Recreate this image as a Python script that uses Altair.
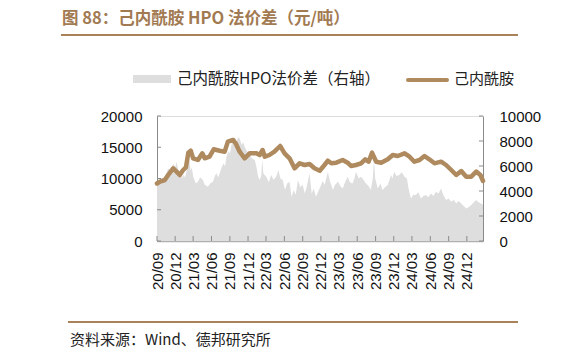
import altair as alt
import pandas as pd

# 己内酰胺 price (left axis, 元/吨)
price_dates = [
    "2020-09-01", "2020-09-16", "2020-10-10", "2020-10-27", "2020-11-21", "2020-12-08",
    "2020-12-24", "2021-01-10", "2021-01-24", "2021-02-05", "2021-02-17", "2021-03-01",
    "2021-03-25", "2021-04-16", "2021-04-28", "2021-05-22", "2021-06-12", "2021-07-12",
    "2021-08-06", "2021-08-22", "2021-09-17", "2021-09-30", "2021-10-20", "2021-11-14",
    "2021-12-09", "2022-01-12", "2022-01-28", "2022-02-12", "2022-02-23", "2022-03-18",
    "2022-04-12", "2022-05-11", "2022-06-02", "2022-06-27", "2022-07-22", "2022-08-16",
    "2022-09-11", "2022-10-05", "2022-10-30", "2022-11-25", "2022-12-19", "2023-01-05",
    "2023-01-22", "2023-02-16", "2023-03-20", "2023-04-14", "2023-05-01", "2023-05-26",
    "2023-06-20", "2023-07-11", "2023-07-28", "2023-08-14", "2023-09-04", "2023-09-29",
    "2023-11-01", "2023-11-26", "2023-12-21", "2024-01-24", "2024-02-18", "2024-03-13",
    "2024-04-08", "2024-05-03", "2024-05-27", "2024-06-22", "2024-07-25", "2024-08-19",
    "2024-09-14", "2024-10-09", "2024-11-03", "2024-11-28", "2024-12-23", "2025-01-17",
    "2025-02-07", "2025-02-20",
]
price_values = [
    9200, 9500, 9760, 10560, 11630, 11100,
    10560, 11360, 11790, 14130, 14450, 13230,
    12960, 14030, 13230, 13490, 14670, 14450,
    14290, 15890, 16160, 15630, 14290, 13230,
    14030, 14030, 13760, 14560, 13490, 13760,
    14290, 15200, 14030, 13230, 11630, 12430,
    12160, 12320, 11630, 11250, 12160, 12850,
    12430, 12530, 12960, 12530, 12000, 12160,
    12430, 13070, 12690, 14130, 12690, 12530,
    13070, 13760, 13600, 14030, 13490, 12690,
    12960, 13600, 13070, 12430, 12690, 12160,
    11360, 10560, 11200, 10290, 10290, 11100,
    10560, 9600,
]

# 己内酰胺HPO法价差 (right axis, 元/吨)
spread_dates = [
    "2020-09-01", "2020-09-15", "2020-10-01", "2020-10-15", "2020-10-27", "2020-11-10",
    "2020-11-21", "2020-12-01", "2020-12-08", "2020-12-16", "2020-12-24", "2021-01-05",
    "2021-01-10", "2021-01-20", "2021-01-28", "2021-02-05", "2021-02-10", "2021-02-16",
    "2021-02-22", "2021-03-01", "2021-03-05", "2021-03-15", "2021-03-25", "2021-04-05",
    "2021-04-19", "2021-04-28", "2021-05-14", "2021-05-25", "2021-06-08", "2021-06-18",
    "2021-06-25", "2021-07-05", "2021-07-20", "2021-07-30", "2021-08-08", "2021-08-15",
    "2021-08-25", "2021-09-01", "2021-09-09", "2021-09-18", "2021-09-26", "2021-10-05",
    "2021-10-12", "2021-10-20", "2021-10-30", "2021-11-07", "2021-11-14", "2021-11-25",
    "2021-12-09", "2021-12-20", "2022-01-04", "2022-01-12", "2022-01-20", "2022-01-28",
    "2022-02-05", "2022-02-10", "2022-02-16", "2022-03-02", "2022-03-15", "2022-03-27",
    "2022-04-08", "2022-04-21", "2022-05-02", "2022-05-12", "2022-05-24", "2022-06-04",
    "2022-06-15", "2022-06-27", "2022-07-07", "2022-07-18", "2022-07-28", "2022-08-08",
    "2022-08-20", "2022-09-01", "2022-09-11", "2022-09-22", "2022-10-05", "2022-10-16",
    "2022-10-26", "2022-11-06", "2022-11-16", "2022-11-28", "2022-12-10", "2022-12-20",
    "2023-01-05", "2023-01-15", "2023-01-30", "2023-02-10", "2023-02-25", "2023-03-08",
    "2023-03-20", "2023-04-01", "2023-04-14", "2023-04-25", "2023-05-08", "2023-05-18",
    "2023-05-26", "2023-06-08", "2023-06-20", "2023-07-02", "2023-07-15", "2023-07-28",
    "2023-08-08", "2023-08-18", "2023-08-24", "2023-08-30", "2023-09-12", "2023-09-25",
    "2023-10-06", "2023-10-18", "2023-11-01", "2023-11-10", "2023-11-17", "2023-11-25",
    "2023-12-03", "2023-12-15", "2023-12-28", "2024-01-10", "2024-01-24", "2024-02-05",
    "2024-02-13", "2024-02-25", "2024-03-08", "2024-03-21", "2024-04-02", "2024-04-15",
    "2024-04-28", "2024-05-10", "2024-05-22", "2024-06-04", "2024-06-17", "2024-06-29",
    "2024-07-12", "2024-07-25", "2024-08-05", "2024-08-19", "2024-09-01", "2024-09-14",
    "2024-09-26", "2024-10-09", "2024-10-20", "2024-11-03", "2024-11-15", "2024-11-28",
    "2024-12-10", "2024-12-23", "2025-01-05", "2025-01-17", "2025-01-28", "2025-02-10",
    "2025-02-20",
]
spread_values = [
    4480, 4700, 4880, 5300, 5810, 5600,
    6210, 5900, 6350, 5700, 5420, 5000,
    5280, 5100, 5680, 6000, 6600, 5600,
    5900, 5200, 5000, 4600, 4740, 5100,
    4880, 4500, 4350, 4600, 4740, 5200,
    5420, 5100, 5810, 6200, 6000, 6740,
    7200, 7000, 7680, 8000, 8340, 7900,
    8300, 8210, 7700, 7900, 7540, 7200,
    7010, 6600, 6480, 5940, 5200, 4880,
    5200, 6480, 5400, 5140, 4700, 5280,
    4900, 5140, 5680, 5000, 4880, 4080,
    4600, 4740, 3540, 4080, 3700, 4880,
    4300, 4500, 3810, 4400, 5420, 3810,
    4200, 3540, 3900, 4350, 4800, 4500,
    5540, 4800, 4080, 4500, 4740, 4400,
    4210, 4700, 5140, 4700, 4610, 5000,
    5540, 5000, 5140, 4900, 4610, 4400,
    4080, 5000, 6480, 5000, 4210, 4600,
    4080, 4300, 4480, 4900, 5280, 5000,
    5540, 5200, 5280, 5500, 5140, 5000,
    4210, 3410, 3700, 3680, 3900, 3410,
    3600, 3680, 3500, 3810, 3600, 3940,
    3800, 4210, 3700, 3280, 3400, 3140,
    3300, 3010, 3200, 3010, 2800, 2610,
    2700, 2880, 3100, 3280, 3100, 3010,
    2900,
]

tick_dates = [
    "2020-09-01", "2020-12-01", "2021-03-01", "2021-06-01", "2021-09-01", "2021-12-01",
    "2022-03-01", "2022-06-01", "2022-09-01", "2022-12-01", "2023-03-01", "2023-06-01",
    "2023-09-01", "2023-12-01", "2024-03-01", "2024-06-01", "2024-09-01", "2024-12-01",
]
left_ticks = [0, 5000, 10000, 15000, 20000]
right_ticks = [0, 2000, 4000, 6000, 8000, 10000]

title_text = "图 88：己内酰胺 HPO 法价差（元/吨）"
legend_area_text = "己内酰胺HPO法价差（右轴）"
legend_line_text = "己内酰胺"
source_text = "资料来源：Wind、德邦研究所"

BROWN = "#ae8a5e"
TITLE_BROWN = "#a27a52"
GRAY = "#dedede"
AXIS = "#8a8a8a"
CJK = "Noto Sans CJK SC"
NUM = "Liberation Sans"

W, H = 326, 125

price_df = pd.DataFrame({"date": price_dates, "v": price_values})
spread_df = pd.DataFrame({"date": spread_dates, "v": spread_values})


def dt(s):
    y, m, d = (int(p) for p in s.split("-"))
    return alt.DateTime(year=y, month=m, date=d, utc=True)


xscale = alt.Scale(type="utc", domain=[dt("2020-09-01"), dt("2025-02-20")])
xaxis = alt.Axis(
    values=[dt(s) for s in tick_dates], format="%y/%m", labelAngle=270,
    ticks=False, labelPadding=11, domainColor="#b0b0b0", domainWidth=1.5,
    labelFont=NUM, labelFontSize=15, labelColor="#111", title=None, grid=False,
)
X = alt.X("date:T", scale=xscale, axis=xaxis)

area = alt.Chart(spread_df).mark_area(color=GRAY).encode(
    x=X,
    y=alt.Y("v:Q", scale=alt.Scale(domain=[0, 10000]),
            axis=alt.Axis(orient="right", values=right_ticks, ticks=False, format="d",
                          labelPadding=16, domainColor=AXIS, labelFont=NUM,
                          labelFontSize=15, labelColor="#111", title=None,
                          grid=False, labelFlush=False)),
)

line = alt.Chart(price_df).mark_line(
    color=BROWN, strokeWidth=4.5, strokeCap="round", strokeJoin="round"
).encode(
    x=X,
    y=alt.Y("v:Q", scale=alt.Scale(domain=[0, 20000]),
            axis=alt.Axis(orient="left", values=left_ticks, ticks=False, format="d",
                          labelPadding=15, domainColor=AXIS, labelFont=NUM,
                          labelFontSize=15, labelColor="#111", title=None,
                          grid=False, labelFlush=False)),
)

lt = alt.Chart(pd.DataFrame({"t": left_ticks})).mark_rule(color=AXIS).encode(
    y=alt.Y("t:Q", scale=alt.Scale(domain=[0, 20000]), axis=None),
    x=alt.value(0), x2=alt.value(4),
)
rt = alt.Chart(pd.DataFrame({"t": right_ticks})).mark_rule(color=AXIS).encode(
    y=alt.Y("t:Q", scale=alt.Scale(domain=[0, 10000]), axis=None),
    x=alt.value(W - 4), x2=alt.value(W),
)
bt = alt.Chart(pd.DataFrame({"date": tick_dates})).mark_rule(color=AXIS).encode(
    x=X, y=alt.value(H), y2=alt.value(H - 5),
)

one = pd.DataFrame({"k": [0]})

title = alt.Chart(pd.DataFrame({"t": [title_text]})).mark_text(
    align="left", baseline="middle", font=CJK, fontSize=16.5, fontWeight="bold",
    color=TITLE_BROWN,
).encode(text="t:N", x=alt.value(-95), y=alt.value(-97))

title_rule = alt.Chart(one).mark_rule(color="#a9825a", strokeWidth=2).encode(
    x=alt.value(-96), x2=alt.value(361), y=alt.value(-81)
)
foot_rule = alt.Chart(one).mark_rule(color="#a9825a", strokeWidth=2).encode(
    x=alt.value(-89), x2=alt.value(361), y=alt.value(206)
)
source = alt.Chart(pd.DataFrame({"t": [source_text]})).mark_text(
    align="left", baseline="middle", font=CJK, fontSize=15, color="#222",
).encode(text="t:N", x=alt.value(-87), y=alt.value(224))

leg_area = alt.Chart(one).mark_rect(color=GRAY).encode(
    x=alt.value(-24), x2=alt.value(14), y=alt.value(-41), y2=alt.value(-33)
)
leg_area_t = alt.Chart(pd.DataFrame({"t": [legend_area_text]})).mark_text(
    align="left", baseline="middle", font=CJK, fontSize=15.5, color="#222",
).encode(text="t:N", x=alt.value(20), y=alt.value(-37))
leg_line = alt.Chart(one).mark_rule(color=BROWN, strokeWidth=4, strokeCap="round").encode(
    x=alt.value(251), x2=alt.value(290), y=alt.value(-36)
)
leg_line_t = alt.Chart(pd.DataFrame({"t": [legend_line_text]})).mark_text(
    align="left", baseline="middle", font=CJK, fontSize=15, color="#222",
).encode(text="t:N", x=alt.value(297), y=alt.value(-37))

chart = alt.layer(
    area, line, lt, rt, bt, title, title_rule, foot_rule, source,
    leg_area, leg_area_t, leg_line, leg_line_t,
).resolve_scale(y="independent").properties(
    width=W, height=H,
    autosize=alt.AutoSizeParams(type="none"),
    padding={"left": 149, "top": 108, "right": 91, "bottom": 110},
).configure_view(stroke=None).configure(background="white")

chart.save("out.html", embed_options={"renderer": "svg", "actions": False})
